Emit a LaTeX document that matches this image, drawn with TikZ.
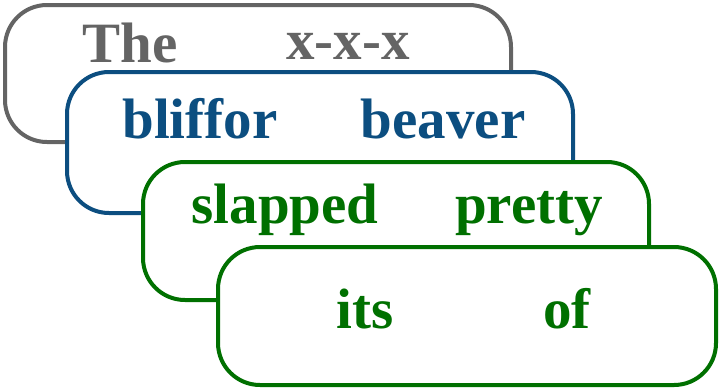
\documentclass[tikz,border=0pt]{standalone}
\usepackage{fontspec}
\setmainfont{Liberation Serif}
\definecolor{cgray}{RGB}{100,100,100}
\definecolor{cblue}{RGB}{12,78,128}
\definecolor{cgreen}{RGB}{0,112,0}
\begin{document}
\begin{tikzpicture}[x=1pt,y=-1pt,
  card/.style={draw=#1,fill=white,line width=4pt,rounded corners=42pt,inner sep=0pt},
  word/.style={anchor=base,font=\fontsize{57}{60}\selectfont\bfseries,inner sep=0pt,text=#1}]
\useasboundingbox (0,0) rectangle (719,389);
\node[card=cgray,minimum width=506pt,minimum height=137pt] (b1) at (258,73.5) {};
\node[word=cgray] (t1) at (130,62) {The};
\node[word=cgray] (t2) at (348,59) {x-x-x};
\node[card=cblue,minimum width=506pt,minimum height=141pt] (b2) at (320,142.5) {};
\node[word=cblue] (t3) at (200,138) {bliffor};
\node[word=cblue] (t4) at (443,138) {beaver};
\node[card=cgreen,minimum width=506pt,minimum height=138pt] (b3) at (396,231) {};
\node[word=cgreen] (t5) at (285,223) {slapped};
\node[word=cgreen] (t6) at (529,223) {pretty};
\node[card=cgreen,minimum width=498pt,minimum height=138pt] (b4) at (467,316) {};
\node[word=cgreen] (t7) at (365,328) {its};
\node[word=cgreen] (t8) at (567,328) {of};
\end{tikzpicture}
\end{document}
